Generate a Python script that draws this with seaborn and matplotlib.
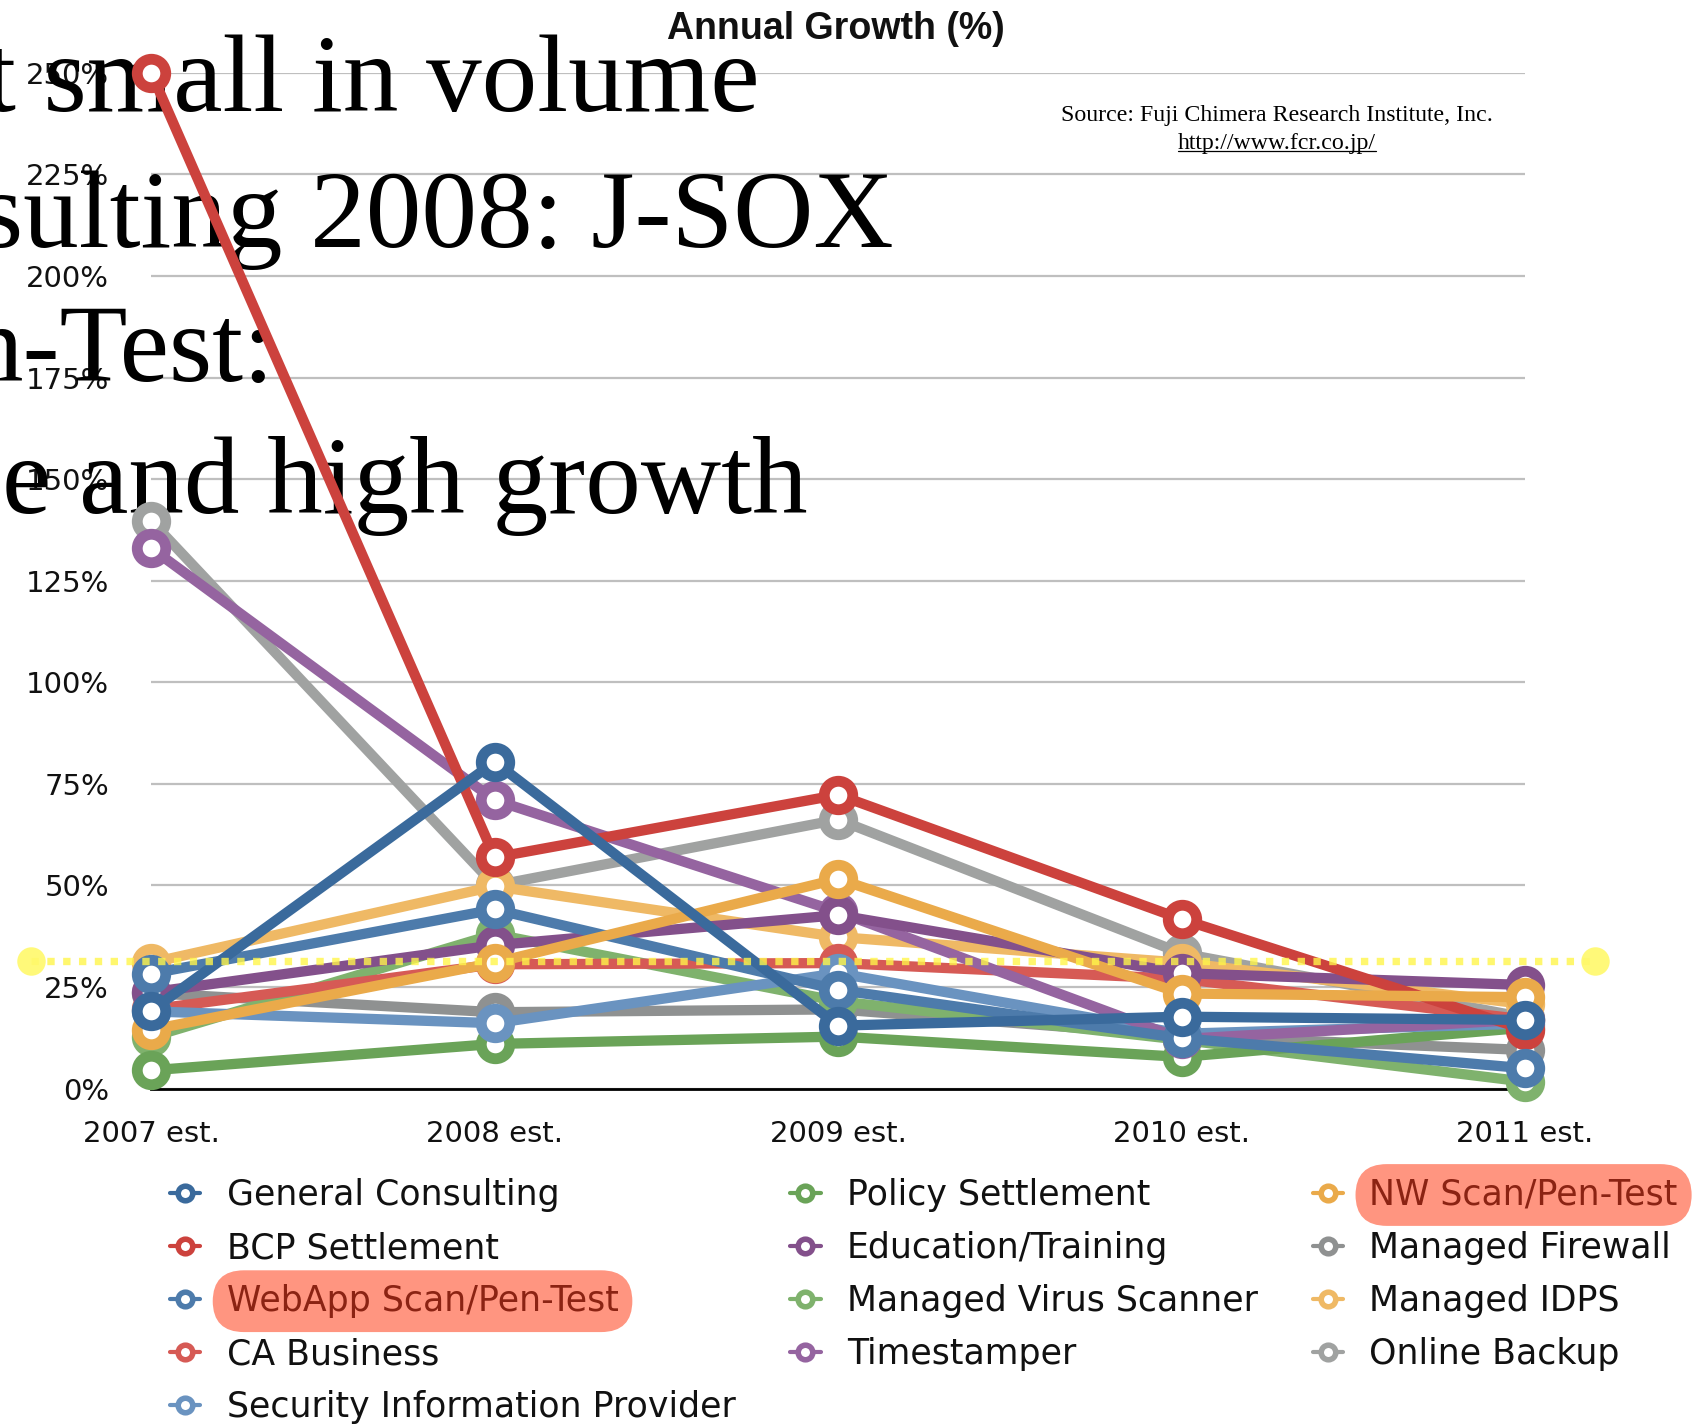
import numpy as np
import pandas as pd
import matplotlib
matplotlib.use("Agg")
import matplotlib.pyplot as plt
import seaborn as sns
from matplotlib.lines import Line2D

# ---------------- data ----------------
years = ["2007 est.", "2008 est.", "2009 est.", "2010 est.", "2011 est."]
series_names = [
    "General Consulting", "BCP Settlement", "WebApp Scan/Pen-Test", "CA Business",
    "Security Information Provider", "Policy Settlement", "Education/Training",
    "Managed Virus Scanner", "Timestamper", "NW Scan/Pen-Test", "Managed Firewall",
    "Managed IDPS", "Online Backup",
]
general_consulting = [19.2, 80.4, 15.5, 17.7, 16.9]
bcp_settlement = [250.0, 56.9, 72.3, 41.7, 14.5]
webapp_scan = [28.3, 44.1, 24.3, 12.4, 5.0]
ca_business = [19.5, 30.6, 30.9, 27.0, 17.0]
security_info = [19.0, 16.1, 28.4, 13.5, 16.0]
policy_settlement = [4.5, 11.0, 12.8, 7.8, 15.0]
education_training = [23.7, 35.3, 42.7, 28.4, 25.5]
managed_virus = [12.7, 38.0, 21.5, 12.0, 1.7]
timestamper = [133.0, 71.0, 43.5, 12.2, 17.0]
nw_scan = [14.5, 31.0, 51.6, 23.4, 22.5]
managed_firewall = [23.5, 18.8, 19.5, 13.0, 9.5]
managed_idps = [31.0, 49.8, 37.3, 31.0, 20.8]
online_backup = [139.7, 50.0, 66.2, 33.3, 17.5]

series_values = [
    general_consulting, bcp_settlement, webapp_scan, ca_business, security_info,
    policy_settlement, education_training, managed_virus, timestamper, nw_scan,
    managed_firewall, managed_idps, online_backup,
]
series_colors = [
    "#3A6A9C", "#CC423D", "#4D7BAB", "#D65A55", "#6A93C0",
    "#6AA358", "#83508B", "#7FB26D", "#9564A0", "#EAAA4A",
    "#8F9191", "#EFB965", "#A0A2A1",
]
# stacking order, top first
stack_order = [
    "General Consulting", "NW Scan/Pen-Test", "WebApp Scan/Pen-Test", "BCP Settlement",
    "Education/Training", "Timestamper", "Security Information Provider", "CA Business",
    "Policy Settlement", "Managed Virus Scanner", "Managed Firewall", "Managed IDPS",
    "Online Backup",
]
highlighted = ["WebApp Scan/Pen-Test", "NW Scan/Pen-Test"]
highlight_level = 31.3
y_ticks = list(range(0, 251, 25))
overlay_lines = ["t small in volume", "sulting 2008: J-SOX", "n-Test:", "e and high growth"]

df = pd.DataFrame(
    [(name, i, v) for name, vals in zip(series_names, series_values) for i, v in enumerate(vals)],
    columns=["series", "xi", "growth"],
)

# ---------------- figure ----------------
sns.set_theme(style="white")
plt.rcParams["font.family"] = ["DejaVu Sans"]

W, H = 1707, 1425
fig = plt.figure(figsize=(W / 100, H / 100), dpi=100)
ax_l, ax_r, ax_t, ax_b = 151.3, 1525.1, 72.9, 1088.6
ax = fig.add_axes([ax_l / W, 1 - ax_b / H, (ax_r - ax_l) / W, (ax_b - ax_t) / H])
ax.set_axisbelow(True)

n = len(series_names)
handles = []
for name, col in zip(series_names, series_colors):
    sub = df[df["series"] == name]
    before = len(ax.lines)
    sns.lineplot(
        data=sub, x="xi", y="growth", ax=ax, color=col, lw=7.4,
        marker="o", markersize=20.5, markeredgewidth=7.8,
        markeredgecolor=col, markerfacecolor="white",
        zorder=10 + (n - stack_order.index(name)), clip_on=False, legend=False,
        solid_joinstyle="round",
    )
    handles.append(ax.lines[before])

ax.set_xlim(0, len(years) - 1)
ax.set_ylim(0, 250)
ax.set_xticks(range(len(years)))
ax.set_xticklabels(years)
ax.set_yticks(y_ticks)
ax.set_yticklabels([f"{t}%" for t in y_ticks])
ax.set_xlabel("")
ax.set_ylabel("")
ax.grid(axis="y", color="#BFBFBF", lw=1.6)
ax.grid(axis="x", visible=False)
for s in ["left", "right", "top"]:
    ax.spines[s].set_visible(False)
ax.spines["bottom"].set_color("black")
ax.spines["bottom"].set_linewidth(2.0)
ax.tick_params(axis="both", length=0, labelsize=21, labelcolor="#111111")
ax.tick_params(axis="x", pad=22.5)
ax.tick_params(axis="y", pad=30.5)

# highlight dotted line with end circles
xa0, xa1 = (30.7 - ax_l) / (ax_r - ax_l), (1595 - ax_l) / (ax_r - ax_l)
ax.plot([xa0, xa1], [highlight_level] * 2, transform=ax.get_yaxis_transform(),
        color="#FFF54A", alpha=0.8, lw=5.3, linestyle=(0, (1, 1.15)),
        dash_capstyle="butt", clip_on=False, zorder=40)
ax.plot([xa0, xa1], [highlight_level] * 2, transform=ax.get_yaxis_transform(),
        ls="none", marker="o", ms=20.5, mew=0, color="#FFF96B", alpha=0.9,
        clip_on=False, zorder=41)

# overlay serif slide text (under the data lines)
overlay_pos = [(-15, 111), (-20, 247), (-33, 381), (2, 513)]
for s, (px, py) in zip(overlay_lines, overlay_pos):
    ax.text(px / W, 1 - py / H, s, transform=fig.transFigure, fontsize=80,
            family=["Liberation Serif", "DejaVu Serif"], color="black",
            ha="left", va="baseline", zorder=1, clip_on=False)

# title
fig.text(836 / W, 1 - 29 / H, "Annual Growth (%)", ha="center", va="center",
         fontsize=27, fontweight="bold", family=["Liberation Sans", "DejaVu Sans"],
         color="#111111")

# source
fig.text(1277 / W, 1 - 116 / H, "Source: Fuji Chimera Research Institute, Inc.",
         ha="center", va="center", fontsize=17.2,
         family=["Liberation Serif", "DejaVu Serif"], color="black")
url = fig.text(1277 / W, 1 - 144 / H, "http://www.fcr.co.jp/",
               ha="center", va="center", fontsize=17.2,
               family=["Liberation Serif", "DejaVu Serif"], color="black")

# legend
leg = ax.legend(handles, series_names, ncol=3, loc="upper left",
                bbox_to_anchor=(170 / W, 1 - 1178 / H), bbox_transform=fig.transFigure,
                frameon=False, fontsize=25, handlelength=0.87, handletextpad=0.76,
                columnspacing=1.58, labelspacing=0.55, borderpad=0, borderaxespad=0)
for h in leg.legend_handles:
    h.set_markersize(10.5)
    h.set_markeredgewidth(4.0)
    h.set_linewidth(3.0)
for t in leg.get_texts():
    t.set_color("#111111")
    if t.get_text() in highlighted:
        t.set_color("#8B2313")
        t.set_bbox(dict(boxstyle="round,pad=0.4,rounding_size=0.9", fc="#FF9580", ec="none"))

# underline the URL
fig.canvas.draw()
bb = url.get_window_extent(renderer=fig.canvas.get_renderer())
uy = bb.y0 + 4
fig.add_artist(Line2D([bb.x0 / W, bb.x1 / W], [uy / H, uy / H], transform=fig.transFigure,
                      color="black", lw=0.9))

fig.savefig("out.png", dpi=100)
